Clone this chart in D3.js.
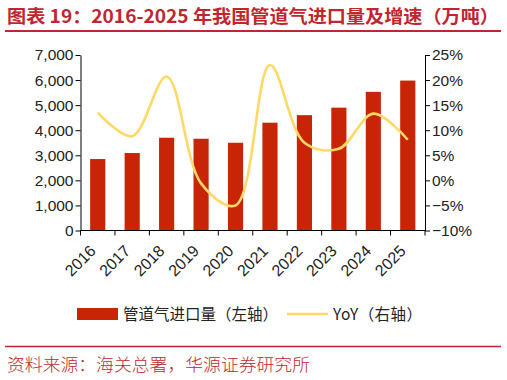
<!DOCTYPE html>
<html><head><meta charset="utf-8">
<script src="https://cdn.jsdelivr.net/npm/d3@7"></script>
<style>body{margin:0;background:#fff}svg{display:block}</style>
</head><body>
<script>
const years = ["2016","2017","2018","2019","2020","2021","2022","2023","2024","2025"];
const volume = [2850,3090,3700,3660,3500,4300,4600,4900,5530,5980];
const yoy = [13.5,8.8,20.7,-0.6,-5.0,23.0,7.5,6.3,13.3,8.1];
const leftTicks = [0,1000,2000,3000,4000,5000,6000,7000];
const rightTicks = [-10,-5,0,5,10,15,20,25];
const title = "图表 19：2016-2025 年我国管道气进口量及增速（万吨）";
const source = "资料来源：海关总署，华源证券研究所";
const legendBar = "管道气进口量（左轴）";
const legendLine = "YoY（右轴）";

const W=507,H=380;
const barColor="#C82506", lineColor="#FFD966", accent="#C0262E";
const svg=d3.select("body").append("svg").attr("width",W).attr("height",H);
const cjk="'Noto Sans CJK SC', sans-serif", lat="'Liberation Sans', Arial, sans-serif";

svg.append("text").attr("x",7).attr("y",23).text(title)
  .attr("font-family",cjk).attr("font-weight",700).attr("font-size",18).attr("fill",accent)
  .attr("textLength",492).attr("lengthAdjust","spacingAndGlyphs");
svg.append("line").attr("x1",5).attr("x2",501).attr("y1",31).attr("y2",31).attr("stroke",accent).attr("stroke-width",2);

const x=d3.scaleBand().domain(years).range([80.5,425]).paddingInner(0.56).paddingOuter(0.28);
const yL=d3.scaleLinear().domain([0,7000]).range([230.5,55]);
const yR=d3.scaleLinear().domain([-10,25]).range([230.5,55]);

svg.append("g").selectAll("rect").data(years).join("rect")
  .attr("x",d=>x(d)).attr("width",x.bandwidth())
  .attr("y",(d,i)=>yL(volume[i])).attr("height",(d,i)=>yL(0)-yL(volume[i]))
  .attr("fill",barColor);

const line=d3.line().x((d,i)=>x(years[i])+x.bandwidth()/2).y(d=>yR(d)).curve(d3.curveCatmullRom.alpha(0.5));
svg.append("path").datum(yoy).attr("d",line).attr("fill","none").attr("stroke",lineColor).attr("stroke-width",2.6);

const gL=svg.append("g").attr("transform","translate(80.5,0)")
  .call(d3.axisLeft(yL).tickValues(leftTicks).tickFormat(d3.format(",")).tickSize(5).tickSizeOuter(0));
const gR=svg.append("g").attr("transform","translate(425,0)")
  .call(d3.axisRight(yR).tickValues(rightTicks).tickFormat(d=>(d<0?"\u2212"+(-d):d)+"%").tickSize(5).tickSizeOuter(0));
[gL,gR].forEach(g=>{g.select(".domain").attr("stroke","#000");g.selectAll("line").attr("stroke","#000");
  g.selectAll("text").attr("font-family",lat).attr("font-size",15.5).attr("fill","#222");});
gL.selectAll("text").attr("x",-7);
gR.selectAll("text").attr("x",7);

const xa=svg.append("g");
xa.append("line").attr("x1",80.5).attr("x2",425).attr("y1",230.5).attr("y2",230.5).attr("stroke","#000");
const bounds=d3.range(years.length+1).map(i=>80.5+i*(425-80.5)/years.length);
xa.selectAll("line.t").data(bounds).join("line").attr("class","t")
  .attr("x1",d=>d).attr("x2",d=>d).attr("y1",230.5).attr("y2",235.5).attr("stroke","#000");
xa.selectAll("text").data(years).join("text")
  .attr("transform",d=>`translate(${x(d)+x.bandwidth()/2-1},${252}) rotate(-45)`)
  .attr("text-anchor","end").text(d=>d)
  .attr("font-family",lat).attr("font-size",16).attr("fill","#222");

const lg=svg.append("g");
lg.append("rect").attr("x",77).attr("y",308).attr("width",41).attr("height",12).attr("fill",barColor);
lg.append("text").attr("x",123).attr("y",320).text(legendBar).attr("font-family",cjk).attr("font-size",15.5).attr("fill","#222")
  .attr("textLength",155).attr("lengthAdjust","spacing");
lg.append("line").attr("x1",287).attr("x2",328).attr("y1",314).attr("y2",314).attr("stroke",lineColor).attr("stroke-width",2.6);
lg.append("text").attr("x",333).attr("y",320).text(legendLine).attr("font-family",cjk).attr("font-size",15.5).attr("fill","#222")
  .attr("textLength",89).attr("lengthAdjust","spacing");

svg.append("line").attr("x1",5).attr("x2",501).attr("y1",346.5).attr("y2",346.5).attr("stroke",accent).attr("stroke-width",1.5);
svg.append("text").attr("x",7).attr("y",371).text(source).attr("font-family",cjk).attr("font-weight",300).attr("font-size",17).attr("fill",accent)
  .attr("textLength",303).attr("lengthAdjust","spacingAndGlyphs");
</script>
</body></html>
